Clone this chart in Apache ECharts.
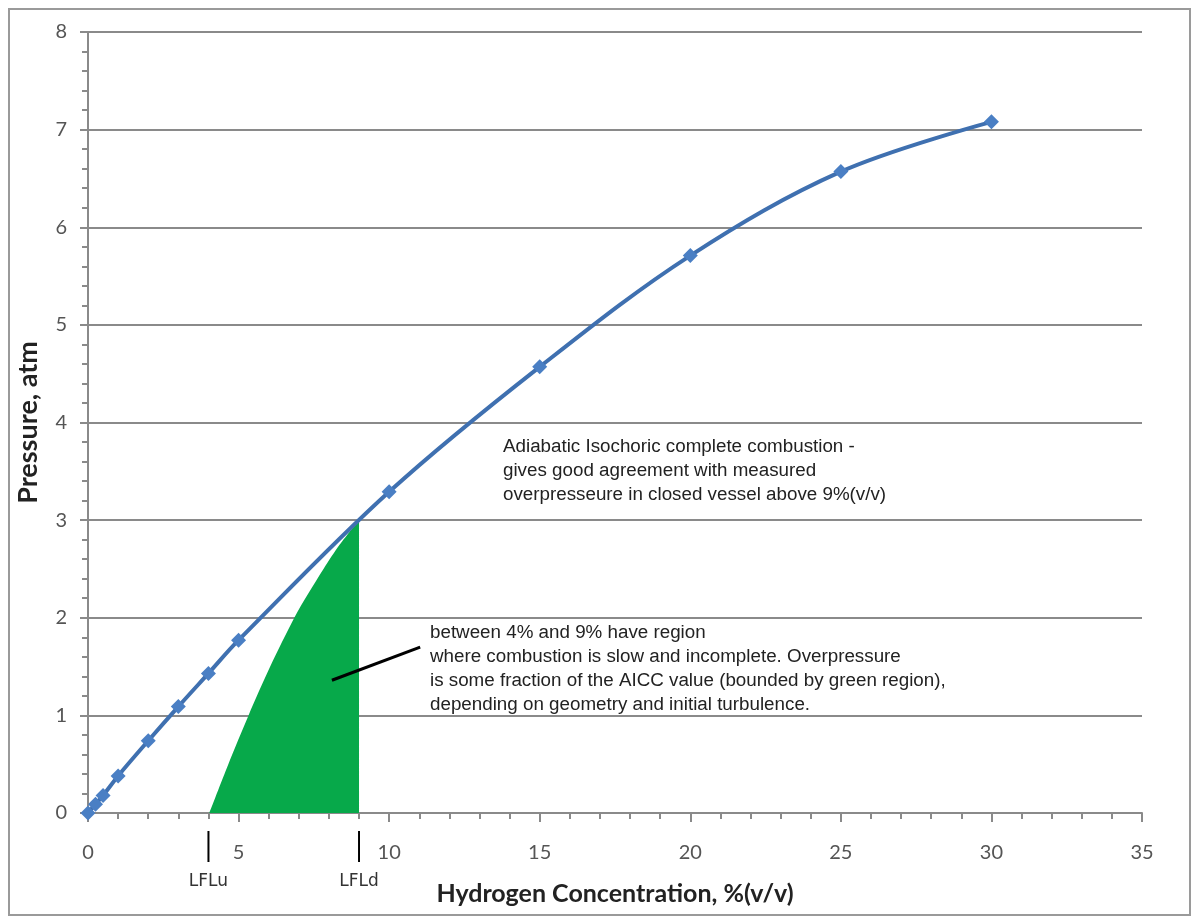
<!DOCTYPE html>
<html>
<head>
<meta charset="utf-8">
<script src="https://cdn.jsdelivr.net/npm/echarts@6/dist/echarts.min.js"></script>
<style>
html,body{margin:0;padding:0;background:#fff;}
#chart{width:1196px;height:917px;}
</style>
</head>
<body>
<div id="chart"></div>
<script>
// ---- data ----
const concentration = [0, 0.25, 0.5, 1, 2, 3, 4, 5, 10, 15, 20, 25, 30];
const pressure = [0, 0.09, 0.18, 0.38, 0.74, 1.09, 1.43, 1.77, 3.29, 4.57, 5.71, 6.57, 7.08];
const greenX = [4.03, 4.66, 5.33, 6.05, 6.85, 7.32, 7.82, 8.36, 9.0];
const greenY = [0, 0.5, 1.0, 1.5, 2.0, 2.25, 2.5, 2.75, 3.0];
const arrowX = [8.1, 11.03];
const arrowY = [1.36, 1.70];
const lflValues = [4, 9];
const lflLabels = ['LFLu', 'LFLd'];
const xTitle = 'Hydrogen Concentration, %(v/v)';
const yTitle = 'Pressure, atm';
const note1 = ['Adiabatic Isochoric complete combustion -',
  'gives good agreement with measured',
  'overpresseure in closed vessel above 9%(v/v)'];
const note2 = ['between 4% and 9% have region',
  'where combustion is slow and incomplete. Overpressure',
  'is some fraction of the AICC value (bounded by green region),',
  'depending on geometry and initial turbulence.'];

const chart = echarts.init(document.getElementById('chart'));
const axisFont = 'Lato, "Open Sans", sans-serif';
const gray = '#8a8a8a';

const option = {
  animation: false,
  backgroundColor: '#fff',
  grid: {left: 88, right: 54, top: 32, bottom: 104, containLabel: false},
  xAxis: {
    type: 'value', min: 0, max: 35, interval: 5,
    name: xTitle, nameLocation: 'middle', nameGap: 68,
    nameTextStyle: {fontFamily: axisFont, fontWeight: 'bold', fontSize: 25, color: '#222'},
    axisLine: {show: true, onZero: false, lineStyle: {color: gray, width: 2}},
    axisTick: {show: true, length: 9, lineStyle: {color: gray, width: 2}},
    minorTick: {show: true, splitNumber: 5, length: 6, lineStyle: {color: gray, width: 2}},
    splitLine: {show: false},
    axisLabel: {fontFamily: axisFont, fontSize: 20, color: '#555', margin: 30}
  },
  yAxis: {
    type: 'value', min: 0, max: 8, interval: 1,
    name: yTitle, nameLocation: 'middle', nameGap: 46, nameRotate: 90,
    nameTextStyle: {fontFamily: axisFont, fontWeight: 'bold', fontSize: 27, color: '#222'},
    axisLine: {show: true, lineStyle: {color: gray, width: 2}},
    axisTick: {show: true, length: 8, lineStyle: {color: gray, width: 2}},
    minorTick: {show: true, splitNumber: 5, length: 6, lineStyle: {color: gray, width: 2}},
    splitLine: {show: true, lineStyle: {color: gray, width: 2}},
    axisLabel: {fontFamily: axisFont, fontSize: 20, color: '#555', margin: 21}
  },
  series: [
    {
      type: 'line', name: 'green', silent: true, z: 1,
      data: greenX.map((x, i) => [x, greenY[i]]),
      smooth: 0.3,
      showSymbol: false, symbol: 'none',
      lineStyle: {width: 0, color: '#07a94a'},
      areaStyle: {color: '#07a94a', opacity: 1}
    },
    {
      type: 'line', name: 'AICC', z: 3,
      data: concentration.map((x, i) => [x, pressure[i]]),
      smooth: 0.35,
      symbol: 'diamond', symbolSize: 15,
      itemStyle: {color: '#4a7fc4'},
      lineStyle: {color: '#3f70b0', width: 4}
    },
    {
      type: 'line', name: 'arrow', silent: true, z: 4,
      data: arrowX.map((x, i) => [x, arrowY[i]]),
      symbol: 'none',
      lineStyle: {color: '#000', width: 3}
    }
  ]
};
chart.setOption(option);

// annotation graphics placed via the library's scales
const graphics = [];
graphics.push({
  type: 'rect', shape: {x: 9, y: 9, width: 1181, height: 906},
  style: {fill: 'none', stroke: '#9a9a9a', lineWidth: 2}, silent: true
});
lflValues.forEach((v, i) => {
  const p = chart.convertToPixel({gridIndex: 0}, [v, 0]);
  graphics.push({
    type: 'line', shape: {x1: p[0], y1: p[1] + 18, x2: p[0], y2: p[1] + 49},
    style: {stroke: '#000', lineWidth: 2}, silent: true
  });
  graphics.push({
    type: 'text', x: p[0], y: p[1] + 69,
    style: {text: lflLabels[i], fontFamily: '"DejaVu Sans", sans-serif', fontSize: 17, fill: '#333',
      align: 'center', verticalAlign: 'middle'}, silent: true
  });
});
graphics.push({
  type: 'text', x: 503, y: 435,
  style: {text: note1.join('\n'), fontFamily: '"Liberation Sans", Arial, sans-serif', fontSize: 18.8,
    lineHeight: 24, fill: '#222', align: 'left', verticalAlign: 'top'}, silent: true
});
graphics.push({
  type: 'text', x: 430, y: 621,
  style: {text: note2.join('\n'), fontFamily: '"Liberation Sans", Arial, sans-serif', fontSize: 18.8,
    lineHeight: 24, fill: '#222', align: 'left', verticalAlign: 'top'}, silent: true
});
chart.setOption({graphic: graphics});
</script>
</body>
</html>
